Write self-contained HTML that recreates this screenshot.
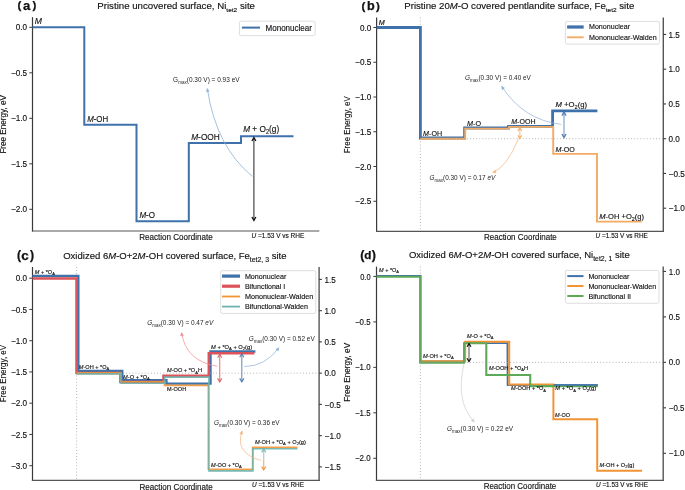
<!DOCTYPE html><html><head><meta charset="utf-8"><style>html,body{margin:0;padding:0;background:#fff;}svg{display:block;will-change:transform;}</style></head><body>
<svg width="685" height="490" viewBox="0 0 685 490" font-family='"Liberation Sans", sans-serif' fill="#111">
<style>text{stroke:#111;stroke-width:0.14px;} text.thin{stroke-width:0;fill:#1e1e1e}</style>
<rect width="685" height="490" fill="#fff"/>
<text x="19.3" y="8.5" font-size="11.5" font-weight="bold" text-anchor="middle" style="stroke-width:0.25px">(</text>
<text x="26.55" y="9.5" font-size="13.1" font-weight="bold" text-anchor="middle" style="stroke-width:0.25px">a</text>
<text x="34.3" y="8.5" font-size="11.5" font-weight="bold" text-anchor="middle" style="stroke-width:0.25px">)</text>
<text x="97.3" y="8.6" font-size="9.13" textLength="157.7" lengthAdjust="spacingAndGlyphs" >Pristine uncovered surface, Ni<tspan font-size="6.16" dy="3.0">tet2</tspan><tspan dy="-3.0"> site</tspan></text>
<line x1="32.5" y1="17.2" x2="32.5" y2="231.6" stroke="#3a3a3a" stroke-width="1.2" />
<line x1="31.9" y1="231.0" x2="319.3" y2="231.0" stroke="#555" stroke-width="1.2" />
<line x1="29.3" y1="27.3" x2="32.5" y2="27.3" stroke="#3a3a3a" stroke-width="1.0" />
<text x="15.8" y="30.400000000000002" font-size="8.80" textLength="11.3" lengthAdjust="spacingAndGlyphs" >0.0</text>
<line x1="29.3" y1="72.8" x2="32.5" y2="72.8" stroke="#3a3a3a" stroke-width="1.0" />
<text x="10.9" y="75.89999999999999" font-size="8.80" textLength="16.2" lengthAdjust="spacingAndGlyphs" >−0.5</text>
<line x1="29.3" y1="118.3" x2="32.5" y2="118.3" stroke="#3a3a3a" stroke-width="1.0" />
<text x="10.9" y="121.39999999999999" font-size="8.80" textLength="16.2" lengthAdjust="spacingAndGlyphs" >−1.0</text>
<line x1="29.3" y1="163.8" x2="32.5" y2="163.8" stroke="#3a3a3a" stroke-width="1.0" />
<text x="10.9" y="166.9" font-size="8.80" textLength="16.2" lengthAdjust="spacingAndGlyphs" >−1.5</text>
<line x1="29.3" y1="209.3" x2="32.5" y2="209.3" stroke="#3a3a3a" stroke-width="1.0" />
<text x="10.9" y="212.4" font-size="8.80" textLength="16.2" lengthAdjust="spacingAndGlyphs" >−2.0</text>
<text x="5.8" y="124.3" font-size="9.24" text-anchor="middle" textLength="58.6" lengthAdjust="spacingAndGlyphs" transform="rotate(-90 5.8 124.3)" >Free Energy, eV</text>
<text x="139.3" y="239.9" font-size="8.69" textLength="73.4" lengthAdjust="spacingAndGlyphs" >Reaction Coordinate</text>
<text x="251.5" y="238.0" font-size="7.04" textLength="52.8" lengthAdjust="spacingAndGlyphs" ><tspan font-style="italic">U</tspan> =1.53 V vs RHE</text>
<path d="M32.50 27.20 L84.30 27.20 L84.30 124.80 L136.50 124.80 L136.50 221.20 L188.80 221.20 L188.80 142.90 L241.00 142.90 L241.00 136.30 L293.50 136.30" fill="none" stroke="#3f71aa" stroke-width="2.0" stroke-linejoin="miter" stroke-linecap="butt" />
<rect x="239.4" y="21.2" width="75.70000000000002" height="14.400000000000002" rx="1.6" fill="#fff" fill-opacity="0.8" stroke="#d6d6d6" stroke-width="0.8"/>
<line x1="241.9" y1="27.6" x2="260.0" y2="27.6" stroke="#3f71aa" stroke-width="2.0" />
<text x="265.5" y="30.8" font-size="8.36" textLength="46.5" lengthAdjust="spacingAndGlyphs" >Mononuclear</text>
<text x="34.7" y="23.6" font-size="8.80" textLength="7.2" lengthAdjust="spacingAndGlyphs" ><tspan font-style="italic">M</tspan></text>
<text x="87.2" y="121.7" font-size="9.13" textLength="21.0" lengthAdjust="spacingAndGlyphs" ><tspan font-style="italic">M</tspan>-OH</text>
<text x="139.4" y="218.4" font-size="9.13" textLength="15.6" lengthAdjust="spacingAndGlyphs" ><tspan font-style="italic">M</tspan>-O</text>
<text x="191.2" y="140.0" font-size="9.13" textLength="28.6" lengthAdjust="spacingAndGlyphs" ><tspan font-style="italic">M</tspan>-OOH</text>
<text x="243.2" y="132.4" font-size="9.13" textLength="36.0" lengthAdjust="spacingAndGlyphs" ><tspan font-style="italic">M</tspan> + O<tspan font-size="6.38" dy="1.9">2</tspan><tspan dy="-1.9">(g)</tspan></text>
<line x1="253.9" y1="137.9" x2="253.9" y2="220.1" stroke="#111" stroke-width="1.1" stroke-opacity="0.85"/>
<path d="M251.90 141.00 L253.90 137.60 L255.90 141.00 M251.90 217.00 L253.90 220.40 L255.90 217.00" fill="none" stroke="#111" stroke-width="1.3" stroke-opacity="1.0" stroke-linejoin="miter"/>
<path d="M252.4 176.4 Q216.0 146.6 207.3 88.6" fill="none" stroke="#8eb0d6" stroke-width="0.8" opacity="1"/>
<path d="M207.30 88.60 L209.23 91.34 L206.26 91.79 Z" fill="#8eb0d6" stroke="#8eb0d6" stroke-width="0.4"/>
<text x="173.1" y="81.8" font-size="7.04" textLength="66.5" lengthAdjust="spacingAndGlyphs" class="thin">G<tspan font-size="4.93" dy="2.1">max</tspan><tspan dy="-2.1">(0.30 V) = 0.93 eV</tspan></text>
<text x="363.35" y="9.9" font-size="11.6" font-weight="bold" text-anchor="middle" style="stroke-width:0.25px">(</text>
<text x="370.8" y="9.9" font-size="12.6" font-weight="bold" text-anchor="middle" style="stroke-width:0.25px">b</text>
<text x="378.0" y="9.9" font-size="11.6" font-weight="bold" text-anchor="middle" style="stroke-width:0.25px">)</text>
<text x="404.3" y="8.6" font-size="9.13" textLength="230.0" lengthAdjust="spacingAndGlyphs" >Pristine 20<tspan font-style="italic">M</tspan>-O covered pentlandite surface, Fe<tspan font-size="6.16" dy="3.0">tet2</tspan><tspan dy="-3.0"> site</tspan></text>
<line x1="420.4" y1="17.5" x2="420.4" y2="231.4" stroke="#9a9a9a" stroke-width="0.8" stroke-dasharray="0.9 2.2"/>
<line x1="376.6" y1="17.5" x2="376.6" y2="232.0" stroke="#3a3a3a" stroke-width="1.2" />
<line x1="376.0" y1="231.4" x2="663.9" y2="231.4" stroke="#555" stroke-width="1.2" />
<line x1="663.3" y1="17.5" x2="663.3" y2="232.0" stroke="#555" stroke-width="1.4" />
<line x1="373.40000000000003" y1="27.5" x2="376.6" y2="27.5" stroke="#3a3a3a" stroke-width="1.0" />
<text x="360.0" y="30.6" font-size="8.80" textLength="11.3" lengthAdjust="spacingAndGlyphs" >0.0</text>
<line x1="373.40000000000003" y1="62.25" x2="376.6" y2="62.25" stroke="#3a3a3a" stroke-width="1.0" />
<text x="355.1" y="65.35" font-size="8.80" textLength="16.2" lengthAdjust="spacingAndGlyphs" >−0.5</text>
<line x1="373.40000000000003" y1="97.0" x2="376.6" y2="97.0" stroke="#3a3a3a" stroke-width="1.0" />
<text x="355.1" y="100.1" font-size="8.80" textLength="16.2" lengthAdjust="spacingAndGlyphs" >−1.0</text>
<line x1="373.40000000000003" y1="131.75" x2="376.6" y2="131.75" stroke="#3a3a3a" stroke-width="1.0" />
<text x="355.1" y="134.85" font-size="8.80" textLength="16.2" lengthAdjust="spacingAndGlyphs" >−1.5</text>
<line x1="373.40000000000003" y1="166.5" x2="376.6" y2="166.5" stroke="#3a3a3a" stroke-width="1.0" />
<text x="355.1" y="169.6" font-size="8.80" textLength="16.2" lengthAdjust="spacingAndGlyphs" >−2.0</text>
<line x1="373.40000000000003" y1="201.25" x2="376.6" y2="201.25" stroke="#3a3a3a" stroke-width="1.0" />
<text x="355.1" y="204.35" font-size="8.80" textLength="16.2" lengthAdjust="spacingAndGlyphs" >−2.5</text>
<line x1="663.3" y1="34.44999999999999" x2="666.1" y2="34.44999999999999" stroke="#3a3a3a" stroke-width="1.1" />
<text x="668.6" y="37.54999999999999" font-size="8.80" textLength="11.3" lengthAdjust="spacingAndGlyphs" >1.5</text>
<line x1="663.3" y1="69.19999999999999" x2="666.1" y2="69.19999999999999" stroke="#3a3a3a" stroke-width="1.1" />
<text x="668.6" y="72.29999999999998" font-size="8.80" textLength="11.3" lengthAdjust="spacingAndGlyphs" >1.0</text>
<line x1="663.3" y1="103.94999999999999" x2="666.1" y2="103.94999999999999" stroke="#3a3a3a" stroke-width="1.1" />
<text x="668.6" y="107.04999999999998" font-size="8.80" textLength="11.3" lengthAdjust="spacingAndGlyphs" >0.5</text>
<line x1="663.3" y1="138.7" x2="666.1" y2="138.7" stroke="#3a3a3a" stroke-width="1.1" />
<text x="668.6" y="141.79999999999998" font-size="8.80" textLength="11.3" lengthAdjust="spacingAndGlyphs" >0.0</text>
<line x1="663.3" y1="173.45" x2="666.1" y2="173.45" stroke="#3a3a3a" stroke-width="1.1" />
<text x="668.6" y="176.54999999999998" font-size="8.80" textLength="16.2" lengthAdjust="spacingAndGlyphs" >−0.5</text>
<line x1="663.3" y1="208.2" x2="666.1" y2="208.2" stroke="#3a3a3a" stroke-width="1.1" />
<text x="668.6" y="211.29999999999998" font-size="8.80" textLength="16.2" lengthAdjust="spacingAndGlyphs" >−1.0</text>
<text x="349.6" y="124.7" font-size="9.02" text-anchor="middle" textLength="57.0" lengthAdjust="spacingAndGlyphs" transform="rotate(-90 349.6 124.7)" >Free Energy, eV</text>
<text x="484.0" y="240.3" font-size="8.69" textLength="72.8" lengthAdjust="spacingAndGlyphs" >Reaction Coordinate</text>
<text x="595.6" y="238.2" font-size="7.04" textLength="52.3" lengthAdjust="spacingAndGlyphs" ><tspan font-style="italic">U</tspan> =1.53 V vs RHE</text>
<path d="M376.60 27.50 L420.40 27.50 L420.40 138.00 L464.60 138.00 L464.60 128.00 L508.50 128.00 L508.50 126.30 L552.60 126.30 L552.60 110.80 L597.40 110.80" fill="none" stroke="#3f71aa" stroke-width="2.8" stroke-linejoin="miter" stroke-linecap="butt" />
<path d="M420.40 138.70 L465.20 138.70 L465.20 128.60 L509.00 128.60 L509.00 126.90 L553.20 126.90 L553.20 153.90 L597.00 153.90 L597.00 221.60 L641.50 221.60" fill="none" stroke="#f4aa60" stroke-width="1.9" stroke-linejoin="miter" stroke-linecap="butt" />
<line x1="420.4" y1="138.7" x2="663.3" y2="138.7" stroke="#9a9a9a" stroke-width="0.8" stroke-dasharray="0.9 2.2"/>
<rect x="565.4" y="21.4" width="94.20000000000005" height="22.700000000000003" rx="1.6" fill="#fff" fill-opacity="0.8" stroke="#d6d6d6" stroke-width="0.8"/>
<line x1="567.1" y1="27.0" x2="583.7" y2="27.0" stroke="#3f71aa" stroke-width="3.2" />
<text x="589.0" y="29.4" font-size="7.59" textLength="41.0" lengthAdjust="spacingAndGlyphs" >Mononuclear</text>
<line x1="567.1" y1="37.3" x2="583.7" y2="37.3" stroke="#f4aa60" stroke-width="1.8" />
<text x="589.0" y="39.699999999999996" font-size="7.59" textLength="67.6" lengthAdjust="spacingAndGlyphs" >Mononuclear-Walden</text>
<text x="378.7" y="24.5" font-size="6.82" textLength="6.0" lengthAdjust="spacingAndGlyphs" ><tspan font-style="italic">M</tspan></text>
<text x="423.1" y="136.3" font-size="7.92" textLength="19.0" lengthAdjust="spacingAndGlyphs" ><tspan font-style="italic">M</tspan>-OH</text>
<text x="467.0" y="125.9" font-size="7.92" textLength="14.0" lengthAdjust="spacingAndGlyphs" ><tspan font-style="italic">M</tspan>-O</text>
<text x="511.2" y="124.1" font-size="7.92" textLength="24.3" lengthAdjust="spacingAndGlyphs" ><tspan font-style="italic">M</tspan>-OOH</text>
<text x="555.5" y="107.1" font-size="7.92" textLength="31.6" lengthAdjust="spacingAndGlyphs" ><tspan font-style="italic">M</tspan> +O<tspan font-size="5.72" dy="1.9">2</tspan><tspan dy="-1.9">(g)</tspan></text>
<text x="555.5" y="151.6" font-size="7.92" textLength="19.3" lengthAdjust="spacingAndGlyphs" ><tspan font-style="italic">M</tspan>-OO</text>
<text x="599.3" y="218.8" font-size="7.92" textLength="44.8" lengthAdjust="spacingAndGlyphs" ><tspan font-style="italic">M</tspan>-OH +O<tspan font-size="5.72" dy="1.9">2</tspan><tspan dy="-1.9">(g)</tspan></text>
<line x1="564.0" y1="112.3" x2="564.0" y2="137.29999999999998" stroke="#3f71aa" stroke-width="1.4" stroke-opacity="0.55"/>
<path d="M562.00 115.60 L564.00 112.00 L566.00 115.60 M562.00 134.00 L564.00 137.60 L566.00 134.00" fill="none" stroke="#3f71aa" stroke-width="1.4" stroke-opacity="0.85" stroke-linejoin="miter"/>
<line x1="519.8" y1="128.3" x2="519.8" y2="138.0" stroke="#f4aa60" stroke-width="1.3" stroke-opacity="0.6"/>
<path d="M517.90 131.00 L519.80 128.00 L521.70 131.00 M517.90 135.30 L519.80 138.30 L521.70 135.30" fill="none" stroke="#f4aa60" stroke-width="1.3" stroke-opacity="0.9" stroke-linejoin="miter"/>
<path d="M561.2 124.4 Q523.1 119.8 501.7 86.3" fill="none" stroke="#8eb0d6" stroke-width="0.7" opacity="1"/>
<path d="M501.70 86.30 L504.58 88.02 L502.05 89.64 Z" fill="#8eb0d6" stroke="#8eb0d6" stroke-width="0.4"/>
<path d="M518.5 138.7 Q506.3 167.9 492.8 172.4" fill="none" stroke="#f5b47a" stroke-width="0.7" opacity="1"/>
<path d="M492.80 172.40 L495.17 170.03 L496.12 172.87 Z" fill="#f5b47a" stroke="#f5b47a" stroke-width="0.4"/>
<text x="464.9" y="79.6" font-size="7.04" textLength="66.0" lengthAdjust="spacingAndGlyphs" class="thin"><tspan font-style="italic">G</tspan><tspan font-size="4.93" dy="2.1">max</tspan><tspan dy="-2.1">(0.30 V) = 0.40 eV</tspan></text>
<text x="429.6" y="179.9" font-size="7.04" textLength="65.7" lengthAdjust="spacingAndGlyphs" class="thin"><tspan font-style="italic">G</tspan><tspan font-size="4.93" dy="2.1">max</tspan><tspan dy="-2.1">(0.30 V) = 0.17 <tspan font-style="italic">eV</tspan></tspan></text>
<text x="18.95" y="258.6" font-size="12.2" font-weight="bold" text-anchor="middle" style="stroke-width:0.25px">(</text>
<text x="25.05" y="259.7" font-size="13.4" font-weight="bold" text-anchor="middle" style="stroke-width:0.25px">c</text>
<text x="31.95" y="258.6" font-size="12.2" font-weight="bold" text-anchor="middle" style="stroke-width:0.25px">)</text>
<text x="63.2" y="258.7" font-size="9.13" textLength="223.3" lengthAdjust="spacingAndGlyphs" >Oxidized 6<tspan font-style="italic">M</tspan>-O+2<tspan font-style="italic">M</tspan>-OH covered surface, Fe<tspan font-size="6.60" dy="3.0">tet2, 3</tspan><tspan dy="-3.0"> site</tspan></text>
<line x1="76.6" y1="267.0" x2="76.6" y2="480.4" stroke="#9a9a9a" stroke-width="0.8" stroke-dasharray="0.9 2.2"/>
<line x1="32.5" y1="267.0" x2="32.5" y2="481.0" stroke="#3a3a3a" stroke-width="1.2" />
<line x1="31.9" y1="480.4" x2="319.70000000000005" y2="480.4" stroke="#555" stroke-width="1.2" />
<line x1="319.1" y1="267.0" x2="319.1" y2="481.0" stroke="#555" stroke-width="1.4" />
<line x1="29.3" y1="278.2" x2="32.5" y2="278.2" stroke="#3a3a3a" stroke-width="1.0" />
<text x="15.8" y="281.3" font-size="8.80" textLength="11.3" lengthAdjust="spacingAndGlyphs" >0.0</text>
<line x1="29.3" y1="309.45" x2="32.5" y2="309.45" stroke="#3a3a3a" stroke-width="1.0" />
<text x="10.9" y="312.55" font-size="8.80" textLength="16.2" lengthAdjust="spacingAndGlyphs" >−0.5</text>
<line x1="29.3" y1="340.7" x2="32.5" y2="340.7" stroke="#3a3a3a" stroke-width="1.0" />
<text x="10.9" y="343.8" font-size="8.80" textLength="16.2" lengthAdjust="spacingAndGlyphs" >−1.0</text>
<line x1="29.3" y1="371.95" x2="32.5" y2="371.95" stroke="#3a3a3a" stroke-width="1.0" />
<text x="10.9" y="375.05" font-size="8.80" textLength="16.2" lengthAdjust="spacingAndGlyphs" >−1.5</text>
<line x1="29.3" y1="403.2" x2="32.5" y2="403.2" stroke="#3a3a3a" stroke-width="1.0" />
<text x="10.9" y="406.3" font-size="8.80" textLength="16.2" lengthAdjust="spacingAndGlyphs" >−2.0</text>
<line x1="29.3" y1="434.45" x2="32.5" y2="434.45" stroke="#3a3a3a" stroke-width="1.0" />
<text x="10.9" y="437.55" font-size="8.80" textLength="16.2" lengthAdjust="spacingAndGlyphs" >−2.5</text>
<line x1="29.3" y1="465.7" x2="32.5" y2="465.7" stroke="#3a3a3a" stroke-width="1.0" />
<text x="10.9" y="468.8" font-size="8.80" textLength="16.2" lengthAdjust="spacingAndGlyphs" >−3.0</text>
<line x1="319.1" y1="279.4" x2="321.90000000000003" y2="279.4" stroke="#3a3a3a" stroke-width="1.1" />
<text x="324.6" y="282.5" font-size="8.80" textLength="11.3" lengthAdjust="spacingAndGlyphs" >1.5</text>
<line x1="319.1" y1="310.65" x2="321.90000000000003" y2="310.65" stroke="#3a3a3a" stroke-width="1.1" />
<text x="324.6" y="313.75" font-size="8.80" textLength="11.3" lengthAdjust="spacingAndGlyphs" >1.0</text>
<line x1="319.1" y1="341.9" x2="321.90000000000003" y2="341.9" stroke="#3a3a3a" stroke-width="1.1" />
<text x="324.6" y="345.0" font-size="8.80" textLength="11.3" lengthAdjust="spacingAndGlyphs" >0.5</text>
<line x1="319.1" y1="373.15" x2="321.90000000000003" y2="373.15" stroke="#3a3a3a" stroke-width="1.1" />
<text x="324.6" y="376.25" font-size="8.80" textLength="11.3" lengthAdjust="spacingAndGlyphs" >0.0</text>
<line x1="319.1" y1="404.4" x2="321.90000000000003" y2="404.4" stroke="#3a3a3a" stroke-width="1.1" />
<text x="324.6" y="407.5" font-size="8.80" textLength="16.2" lengthAdjust="spacingAndGlyphs" >−0.5</text>
<line x1="319.1" y1="435.65" x2="321.90000000000003" y2="435.65" stroke="#3a3a3a" stroke-width="1.1" />
<text x="324.6" y="438.75" font-size="8.80" textLength="16.2" lengthAdjust="spacingAndGlyphs" >−1.0</text>
<line x1="319.1" y1="466.9" x2="321.90000000000003" y2="466.9" stroke="#3a3a3a" stroke-width="1.1" />
<text x="324.6" y="470.0" font-size="8.80" textLength="16.2" lengthAdjust="spacingAndGlyphs" >−1.5</text>
<text x="5.9" y="373.6" font-size="9.02" text-anchor="middle" textLength="57.2" lengthAdjust="spacingAndGlyphs" transform="rotate(-90 5.9 373.6)" >Free Energy, eV</text>
<text x="139.5" y="489.5" font-size="8.69" textLength="73.2" lengthAdjust="spacingAndGlyphs" >Reaction Coordinate</text>
<text x="252.0" y="487.2" font-size="7.04" textLength="52.0" lengthAdjust="spacingAndGlyphs" ><tspan font-style="italic">U</tspan> =1.53 V vs RHE</text>
<path d="M32.50 276.00 L78.30 276.00 L78.30 371.00 L122.20 371.00 L122.20 380.20 L166.40 380.20 L166.40 383.60 L210.50 383.60 L210.50 351.50 L255.40 351.50" fill="none" stroke="#3f71aa" stroke-width="2.4" stroke-linejoin="miter" stroke-linecap="butt" />
<path d="M32.50 278.40 L76.50 278.40 L76.50 372.90 L120.40 372.90 L120.40 381.90 L163.50 381.90 L163.50 375.80 L208.80 375.80 L208.80 353.30 L254.40 353.30" fill="none" stroke="#dc5459" stroke-width="2.5" stroke-linejoin="miter" stroke-linecap="butt" />
<path d="M76.50 372.70 L120.80 372.70 L120.80 381.70 L164.40 381.70 L164.40 385.40 L208.30 385.40 L208.30 469.30 L252.60 469.30 L252.60 447.20 L297.50 447.20" fill="none" stroke="#f29435" stroke-width="1.6" stroke-linejoin="miter" stroke-linecap="butt" stroke-opacity="0.9"/>
<path d="M76.70 373.90 L121.00 373.90 L121.00 383.30 L164.80 383.30 L164.80 377.10 L208.90 377.10 L208.90 470.90 L252.90 470.90 L252.90 448.70 L297.50 448.70" fill="none" stroke="#6db3ab" stroke-width="1.6" stroke-linejoin="miter" stroke-linecap="butt" stroke-opacity="0.92"/>
<line x1="76.6" y1="373.15" x2="319.1" y2="373.15" stroke="#9a9a9a" stroke-width="0.8" stroke-dasharray="0.9 2.2"/>
<rect x="220.7" y="270.7" width="95.10000000000002" height="42.69999999999999" rx="1.6" fill="#fff" fill-opacity="0.8" stroke="#d6d6d6" stroke-width="0.8"/>
<line x1="222.0" y1="276.1" x2="240.0" y2="276.1" stroke="#3f71aa" stroke-width="3.2" />
<text x="244.9" y="278.70000000000005" font-size="7.59" textLength="41.4" lengthAdjust="spacingAndGlyphs" >Mononuclear</text>
<line x1="222.0" y1="286.2" x2="240.0" y2="286.2" stroke="#dc5459" stroke-width="3.2" />
<text x="244.9" y="288.8" font-size="7.59" textLength="40.3" lengthAdjust="spacingAndGlyphs" >Bifunctional I</text>
<line x1="222.0" y1="296.5" x2="240.0" y2="296.5" stroke="#f29435" stroke-width="1.8" />
<text x="244.9" y="299.1" font-size="7.59" textLength="68.3" lengthAdjust="spacingAndGlyphs" >Mononuclear-Walden</text>
<line x1="222.0" y1="306.6" x2="240.0" y2="306.6" stroke="#6db3ab" stroke-width="1.8" />
<text x="244.9" y="309.20000000000005" font-size="7.59" textLength="63.1" lengthAdjust="spacingAndGlyphs" >Bifunctional-Walden</text>
<text x="34.8" y="273.6" font-size="5.50" textLength="20.0" lengthAdjust="spacingAndGlyphs" ><tspan font-style="italic">M</tspan> + *O<tspan font-size="3.96" dy="1.2">A</tspan><tspan dy="-1.2"></tspan></text>
<text x="78.8" y="368.8" font-size="5.50" textLength="30.5" lengthAdjust="spacingAndGlyphs" ><tspan font-style="italic">M</tspan>-OH + *O<tspan font-size="3.96" dy="1.2">A</tspan><tspan dy="-1.2"></tspan></text>
<text x="123.1" y="378.6" font-size="5.50" textLength="26.7" lengthAdjust="spacingAndGlyphs" ><tspan font-style="italic">M</tspan>-O + *O<tspan font-size="3.96" dy="1.2">A</tspan><tspan dy="-1.2"></tspan></text>
<text x="167.0" y="372.4" font-size="5.50" textLength="35.0" lengthAdjust="spacingAndGlyphs" ><tspan font-style="italic">M</tspan>-OO + *O<tspan font-size="3.96" dy="1.2">A</tspan><tspan dy="-1.2">H</tspan></text>
<text x="167.0" y="391.2" font-size="5.50" textLength="19.2" lengthAdjust="spacingAndGlyphs" >M-OOH</text>
<text x="211.1" y="349.1" font-size="5.50" textLength="41.0" lengthAdjust="spacingAndGlyphs" ><tspan font-style="italic">M</tspan> + *O<tspan font-size="3.96" dy="1.2">A</tspan><tspan dy="-1.2"> + O<tspan font-size="3.96" dy="1.2">2</tspan><tspan dy="-1.2">(g)</tspan></tspan></text>
<text x="211.1" y="466.7" font-size="5.50" textLength="30.7" lengthAdjust="spacingAndGlyphs" ><tspan font-style="italic">M</tspan>-OO + *O<tspan font-size="3.96" dy="1.2">A</tspan><tspan dy="-1.2"></tspan></text>
<text x="254.9" y="444.0" font-size="5.50" textLength="51.0" lengthAdjust="spacingAndGlyphs" ><tspan font-style="italic">M</tspan>-OH + *O<tspan font-size="3.96" dy="1.2">A</tspan><tspan dy="-1.2"> + O<tspan font-size="3.96" dy="1.2">2</tspan><tspan dy="-1.2">(g)</tspan></tspan></text>
<line x1="219.7" y1="354.6" x2="219.7" y2="381.5" stroke="#dc5459" stroke-width="1.2" stroke-opacity="0.7"/>
<path d="M217.60 357.70 L219.70 354.30 L221.80 357.70 M217.60 378.40 L219.70 381.80 L221.80 378.40" fill="none" stroke="#dc5459" stroke-width="1.2" stroke-opacity="0.85" stroke-linejoin="miter"/>
<line x1="241.8" y1="354.1" x2="241.8" y2="381.5" stroke="#3f71aa" stroke-width="1.2" stroke-opacity="0.7"/>
<path d="M239.70 357.20 L241.80 353.80 L243.90 357.20 M239.70 378.40 L241.80 381.80 L243.90 378.40" fill="none" stroke="#3f71aa" stroke-width="1.2" stroke-opacity="0.85" stroke-linejoin="miter"/>
<line x1="263.7" y1="449.5" x2="263.7" y2="459.6" stroke="#6db3ab" stroke-width="1.2" stroke-opacity="0.6"/>
<path d="M261.6 452.4 L263.7 449.0 L265.8 452.4" fill="none" stroke="#6db3ab" stroke-width="1.2" stroke-opacity="0.85"/>
<line x1="263.7" y1="459.6" x2="263.7" y2="469.5" stroke="#f29435" stroke-width="1.2" stroke-opacity="0.75"/>
<path d="M261.6 466.5 L263.7 469.9 L265.8 466.5" fill="none" stroke="#f29435" stroke-width="1.2" stroke-opacity="0.95"/>
<path d="M217.3 366.3 Q185.8 361.2 181.6 332.7" fill="none" stroke="#f08a8e" stroke-width="0.7" opacity="1"/>
<path d="M181.60 332.70 L183.52 335.45 L180.55 335.89 Z" fill="#f08a8e" stroke="#f08a8e" stroke-width="0.4"/>
<path d="M244.2 366.6 Q265.1 366.5 278.9 347.8" fill="none" stroke="#8eb0d6" stroke-width="0.7" opacity="1"/>
<path d="M278.90 347.80 L278.33 351.10 L275.91 349.32 Z" fill="#8eb0d6" stroke="#8eb0d6" stroke-width="0.4"/>
<path d="M261.0 460.5 Q234.3 453.0 242.1 431.1" fill="none" stroke="#f0b27c" stroke-width="0.7" opacity="1"/>
<path d="M242.10 431.10 L242.51 434.43 L239.68 433.42 Z" fill="#f0b27c" stroke="#f0b27c" stroke-width="0.4"/>
<text x="147.2" y="325.3" font-size="7.04" textLength="66.0" lengthAdjust="spacingAndGlyphs" class="thin"><tspan font-style="italic">G</tspan><tspan font-size="4.93" dy="2.1">max</tspan><tspan dy="-2.1">(0.30 V) = 0.47 <tspan font-style="italic">eV</tspan></tspan></text>
<text x="248.7" y="341.2" font-size="7.04" textLength="66.0" lengthAdjust="spacingAndGlyphs" class="thin"><tspan font-style="italic">G</tspan><tspan font-size="4.93" dy="2.1">max</tspan><tspan dy="-2.1">(0.30 V) = 0.52 eV</tspan></text>
<text x="213.9" y="425.1" font-size="7.04" textLength="65.7" lengthAdjust="spacingAndGlyphs" class="thin"><tspan font-style="italic">G</tspan><tspan font-size="4.93" dy="2.1">max</tspan><tspan dy="-2.1">(0.30 V) = 0.36 eV</tspan></text>
<text x="362.25" y="259.05" font-size="12.5" font-weight="bold" text-anchor="middle" style="stroke-width:0.25px">(</text>
<text x="367.7" y="258.8" font-size="11.7" font-weight="bold" text-anchor="middle" style="stroke-width:0.25px">d</text>
<text x="373.75" y="259.05" font-size="12.5" font-weight="bold" text-anchor="middle" style="stroke-width:0.25px">)</text>
<text x="408.9" y="258.4" font-size="9.13" textLength="220.9" lengthAdjust="spacingAndGlyphs" >Oxidized 6<tspan font-style="italic">M</tspan>-O+2<tspan font-style="italic">M</tspan>-OH covered surface, Ni<tspan font-size="6.60" dy="3.0">tet2, 1</tspan><tspan dy="-3.0"> site</tspan></text>
<line x1="420.4" y1="266.5" x2="420.4" y2="480.2" stroke="#9a9a9a" stroke-width="0.8" stroke-dasharray="0.9 2.2"/>
<line x1="376.5" y1="266.6" x2="376.5" y2="480.90000000000003" stroke="#3a3a3a" stroke-width="1.2" />
<line x1="375.9" y1="480.3" x2="663.8000000000001" y2="480.3" stroke="#555" stroke-width="1.2" />
<line x1="663.2" y1="266.6" x2="663.2" y2="480.90000000000003" stroke="#555" stroke-width="1.4" />
<line x1="373.3" y1="276.4" x2="376.5" y2="276.4" stroke="#3a3a3a" stroke-width="1.0" />
<text x="360.2" y="279.5" font-size="8.80" textLength="10.4" lengthAdjust="spacingAndGlyphs" >0.0</text>
<line x1="373.3" y1="321.875" x2="376.5" y2="321.875" stroke="#3a3a3a" stroke-width="1.0" />
<text x="355.0" y="324.975" font-size="8.80" textLength="15.6" lengthAdjust="spacingAndGlyphs" >−0.5</text>
<line x1="373.3" y1="367.34999999999997" x2="376.5" y2="367.34999999999997" stroke="#3a3a3a" stroke-width="1.0" />
<text x="355.0" y="370.45" font-size="8.80" textLength="15.6" lengthAdjust="spacingAndGlyphs" >−1.0</text>
<line x1="373.3" y1="412.825" x2="376.5" y2="412.825" stroke="#3a3a3a" stroke-width="1.0" />
<text x="355.0" y="415.925" font-size="8.80" textLength="15.6" lengthAdjust="spacingAndGlyphs" >−1.5</text>
<line x1="373.3" y1="458.29999999999995" x2="376.5" y2="458.29999999999995" stroke="#3a3a3a" stroke-width="1.0" />
<text x="355.0" y="461.4" font-size="8.80" textLength="15.6" lengthAdjust="spacingAndGlyphs" >−2.0</text>
<line x1="663.2" y1="271.40000000000003" x2="666.0000000000001" y2="271.40000000000003" stroke="#3a3a3a" stroke-width="1.1" />
<text x="668.8" y="274.50000000000006" font-size="8.80" textLength="11.2" lengthAdjust="spacingAndGlyphs" >1.0</text>
<line x1="663.2" y1="316.875" x2="666.0000000000001" y2="316.875" stroke="#3a3a3a" stroke-width="1.1" />
<text x="668.8" y="319.975" font-size="8.80" textLength="11.2" lengthAdjust="spacingAndGlyphs" >0.5</text>
<line x1="663.2" y1="362.35" x2="666.0000000000001" y2="362.35" stroke="#3a3a3a" stroke-width="1.1" />
<text x="668.8" y="365.45000000000005" font-size="8.80" textLength="11.2" lengthAdjust="spacingAndGlyphs" >0.0</text>
<line x1="663.2" y1="407.82500000000005" x2="666.0000000000001" y2="407.82500000000005" stroke="#3a3a3a" stroke-width="1.1" />
<text x="668.8" y="410.92500000000007" font-size="8.80" textLength="15.6" lengthAdjust="spacingAndGlyphs" >−0.5</text>
<line x1="663.2" y1="453.3" x2="666.0000000000001" y2="453.3" stroke="#3a3a3a" stroke-width="1.1" />
<text x="668.8" y="456.40000000000003" font-size="8.80" textLength="15.6" lengthAdjust="spacingAndGlyphs" >−1.0</text>
<text x="349.6" y="372.3" font-size="9.24" text-anchor="middle" textLength="58.8" lengthAdjust="spacingAndGlyphs" transform="rotate(-90 349.6 372.3)" >Free Energy, eV</text>
<text x="483.7" y="489.1" font-size="8.69" textLength="72.6" lengthAdjust="spacingAndGlyphs" >Reaction Coordinate</text>
<text x="596.0" y="487.2" font-size="7.04" textLength="52.0" lengthAdjust="spacingAndGlyphs" ><tspan font-style="italic">U</tspan> =1.53 V vs RHE</text>
<path d="M376.60 276.00 L420.60 276.00 L420.60 361.50 L464.40 361.50 L464.40 343.20 L507.40 343.20 L507.60 385.20 L597.80 385.20" fill="none" stroke="#3f71aa" stroke-width="1.8" stroke-linejoin="miter" stroke-linecap="butt" />
<path d="M420.40 361.30 L465.20 361.30 L465.20 341.80 L509.20 341.80 L509.20 384.60 L553.40 384.60 L553.40 419.30 L597.20 419.30 L597.20 470.70 L642.00 470.70" fill="none" stroke="#f29435" stroke-width="2.0" stroke-linejoin="miter" stroke-linecap="butt" />
<path d="M376.60 276.80 L420.20 276.80 L420.20 362.60 L464.10 362.60 L464.10 343.20 L486.30 343.20 L486.30 375.00 L530.20 375.00 L530.20 386.10 L597.80 386.10" fill="none" stroke="#5ea85a" stroke-width="2.1" stroke-linejoin="miter" stroke-linecap="butt" />
<path d="M553.40 385.00 L597.80 385.00" fill="none" stroke="#3f71aa" stroke-width="1.7" stroke-linejoin="miter" stroke-linecap="butt" />
<line x1="420.4" y1="362.35" x2="663.2" y2="362.35" stroke="#9a9a9a" stroke-width="0.8" stroke-dasharray="0.9 2.2"/>
<rect x="565.4" y="270.4" width="93.60000000000002" height="32.900000000000034" rx="1.6" fill="#fff" fill-opacity="0.8" stroke="#d6d6d6" stroke-width="0.8"/>
<line x1="567.3" y1="276.1" x2="583.5" y2="276.1" stroke="#3f71aa" stroke-width="2.0" />
<text x="588.4" y="278.8" font-size="7.59" textLength="41.0" lengthAdjust="spacingAndGlyphs" >Mononuclear</text>
<line x1="567.3" y1="286.0" x2="583.5" y2="286.0" stroke="#f29435" stroke-width="2.0" />
<text x="588.4" y="288.7" font-size="7.59" textLength="67.9" lengthAdjust="spacingAndGlyphs" >Mononuclear-Walden</text>
<line x1="567.3" y1="296.0" x2="583.5" y2="296.0" stroke="#5ea85a" stroke-width="2.0" />
<text x="588.4" y="298.7" font-size="7.59" textLength="42.7" lengthAdjust="spacingAndGlyphs" >Bifunctional II</text>
<text x="379.0" y="272.0" font-size="5.50" textLength="20.0" lengthAdjust="spacingAndGlyphs" ><tspan font-style="italic">M</tspan> + *O<tspan font-size="3.96" dy="1.2">A</tspan><tspan dy="-1.2"></tspan></text>
<text x="422.9" y="357.9" font-size="5.50" textLength="30.7" lengthAdjust="spacingAndGlyphs" ><tspan font-style="italic">M</tspan>-OH + *O<tspan font-size="3.96" dy="1.2">A</tspan><tspan dy="-1.2"></tspan></text>
<text x="467.0" y="337.8" font-size="5.50" textLength="26.4" lengthAdjust="spacingAndGlyphs" ><tspan font-style="italic">M</tspan>-O + *O<tspan font-size="3.96" dy="1.2">A</tspan><tspan dy="-1.2"></tspan></text>
<text x="489.0" y="370.0" font-size="5.50" textLength="39.1" lengthAdjust="spacingAndGlyphs" ><tspan font-style="italic">M</tspan>-OOH + *O<tspan font-size="3.96" dy="1.2">A</tspan><tspan dy="-1.2">H</tspan></text>
<text x="511.0" y="390.4" font-size="5.50" textLength="35.0" lengthAdjust="spacingAndGlyphs" ><tspan font-style="italic">M</tspan>-OOH + *O<tspan font-size="3.96" dy="1.2">A</tspan><tspan dy="-1.2"></tspan></text>
<text x="555.3" y="390.4" font-size="5.50" textLength="40.8" lengthAdjust="spacingAndGlyphs" ><tspan font-style="italic">M</tspan> + *O<tspan font-size="3.96" dy="1.2">A</tspan><tspan dy="-1.2"> + O<tspan font-size="3.96" dy="1.2">2</tspan><tspan dy="-1.2">(g)</tspan></tspan></text>
<text x="555.0" y="416.8" font-size="5.50" textLength="15.0" lengthAdjust="spacingAndGlyphs" ><tspan font-style="italic">M</tspan>-OO</text>
<text x="599.5" y="467.0" font-size="5.50" textLength="34.8" lengthAdjust="spacingAndGlyphs" ><tspan font-style="italic">M</tspan>-OH + O<tspan font-size="3.96" dy="1.2">2</tspan><tspan dy="-1.2">(g)</tspan></text>
<line x1="469.0" y1="343.90000000000003" x2="469.0" y2="361.2" stroke="#111" stroke-width="1.0" stroke-opacity="0.75"/>
<path d="M467.00 346.80 L469.00 343.60 L471.00 346.80 M467.00 358.30 L469.00 361.50 L471.00 358.30" fill="none" stroke="#111" stroke-width="1.2" stroke-opacity="1.0" stroke-linejoin="miter"/>
<path d="M464.0 363.6 Q455.2 402.0 474.3 421.9" fill="none" stroke="#cfcfcf" stroke-width="0.7" opacity="1"/>
<path d="M474.30 421.90 L471.14 420.77 L473.30 418.70 Z" fill="#cfcfcf" stroke="#cfcfcf" stroke-width="0.4"/>
<text x="447.0" y="431.1" font-size="7.04" textLength="66.1" lengthAdjust="spacingAndGlyphs" class="thin"><tspan font-style="italic">G</tspan><tspan font-size="4.93" dy="2.1">max</tspan><tspan dy="-2.1">(0.30 V) = 0.22 eV</tspan></text>
</svg></body></html>
